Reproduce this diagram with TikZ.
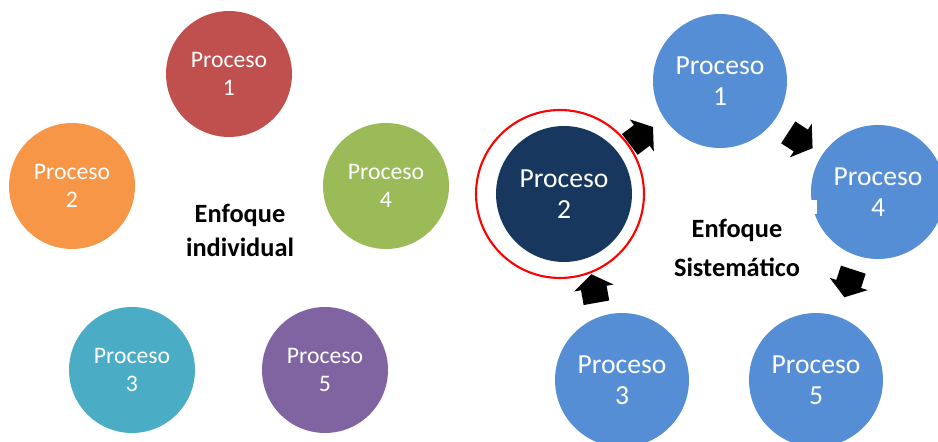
\documentclass[tikz,border=0pt]{standalone}
\usepackage{fontspec}
\setmainfont{Carlito}
\begin{document}
\begin{tikzpicture}[x=0.02cm,y=-0.02cm,
  proc/.style={circle,inner sep=0pt,align=center,text=white},
  small/.style={proc,minimum size=2.52cm,font=\fontsize{13.5}{16}\selectfont},
  big/.style={proc,minimum size=2.68cm,fill=blue1,font=\fontsize{15.7}{17.6}\selectfont},
  heading/.style={align=center,font=\fontsize{15}{19.3}\selectfont\bfseries},
  blockarrow/.pic={\fill[black] (-14,-13) -- (1,-13) -- (1,-20) -- (15,0) -- (1,20) -- (1,13) -- (-14,13) -- cycle;}
]
\definecolor{c1}{HTML}{C0504D}
\definecolor{c2}{HTML}{F79646}
\definecolor{c3}{HTML}{4BACC6}
\definecolor{c4}{HTML}{9BBB59}
\definecolor{c5}{HTML}{8064A2}
\definecolor{blue1}{HTML}{558ED5}
\definecolor{navy}{HTML}{17375E}
\useasboundingbox (0,0) rectangle (938,442);

% individual approach: isolated processes
\node[small,fill=c1] (l1) at (229,74)  {Proceso\\1};
\node[small,fill=c2] (l2) at (72,186)  {Proceso\\2};
\node[small,fill=c4] (l4) at (386,186) {Proceso\\4};
\node[small,fill=c3] (l3) at (132,370) {Proceso\\3};
\node[small,fill=c5] (l5) at (325,370) {Proceso\\5};
\node[heading] (lt) at (240,230) {Enfoque\\individual};

% systemic approach: linked processes
\node[big] (r1) at (720,81)  {Proceso\\1};
\node[big] (r4) at (878,192) {Proceso\\4};
\node[big] (r3) at (622,380) {Proceso\\3};
\node[big] (r5) at (816,380) {Proceso\\5};
\node[proc,minimum size=2.72cm,fill=navy,font=\fontsize{15.7}{17.6}\selectfont] (r2) at (564,194) {Proceso\\2};
\node[circle,draw=red,line width=1.2pt,minimum size=3.36cm,inner sep=0pt] (ring) at (560,194) {};
\fill[white] (800,200) rectangle (817,214);
\node[heading,font=\fontsize{15}{22}\selectfont\bfseries] (rt) at (737,248) {Enfoque\\Sistemático};

% flow arrows between the linked processes
\coordinate (a1) at (641,136);
\coordinate (a2) at (800,140);
\coordinate (a3) at (849,283);
\coordinate (a4) at (594,289);
\pic[rotate=37] at (a1) {blockarrow};
\pic[rotate=-33] at (a2) {blockarrow};
\pic[rotate=-108] at (a3) {blockarrow};
\pic[rotate=100] at (a4) {blockarrow};
\end{tikzpicture}
\end{document}
